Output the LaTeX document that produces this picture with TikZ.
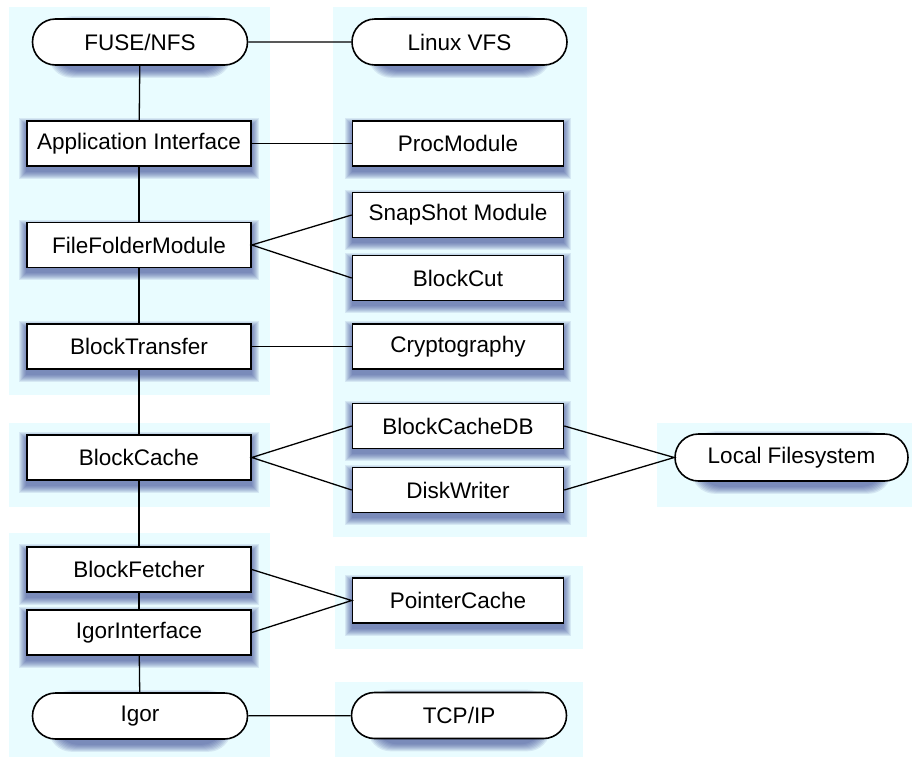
\documentclass[tikz,border=0pt]{standalone}
\usepackage{fontspec}
\setmainfont{Liberation Sans}
\usetikzlibrary{shapes.misc}
\definecolor{panelcyan}{RGB}{233,252,255}
\definecolor{shadowblue}{RGB}{45,60,140}
\pgfdeclarelayer{panels}
\pgfdeclarelayer{shadows}
\pgfsetlayers{panels,shadows,main}
\tikzset{
  panel/.style = {fill=panelcyan, draw=none},
  shadowpart/.style = {fill=shadowblue, opacity=.1},
  module/.style = {rectangle, draw, line width=1.6pt, fill=white,
    inner sep=0pt, minimum height=45pt, font=\fontsize{22.5}{27}\selectfont},
  leftmod/.style = {module, minimum width=224pt},
  rightmod/.style = {module, minimum width=211pt},
  endpoint/.style = {module, rounded rectangle, minimum width=215pt, minimum height=46pt},
  link/.style = {line width=1.3pt}
}

\begin{document}
\begin{tikzpicture}[x=1pt,y=-1pt]
  \useasboundingbox (0,0) rectangle (912,758);

  % background panels
  \begin{pgfonlayer}{panels}
    \path[panel] (9,7) rectangle (270,395);
    \path[panel] (9,423) rectangle (270,507);
    \path[panel] (9,533) rectangle (270,757);
    \path[panel] (333,7) rectangle (587,537);
    \path[panel] (335,566) rectangle (583,649);
    \path[panel] (335,682) rectangle (583,757);
    \path[panel] (657,423) rectangle (912,507);
  \end{pgfonlayer}

  % left column
  \node (fuse) at (140,42) [endpoint] {FUSE/NFS};
  \node (appif) at (139,143.5) [leftmod] {Application Interface};
  \node (ffm) at (139,245) [leftmod] {FileFolderModule};
  \node (transfer) at (139,346.5) [leftmod] {BlockTransfer};
  \node (cache) at (139,457.5) [leftmod] {BlockCache};
  \node (fetcher) at (139,569.5) [leftmod] {BlockFetcher};
  \node (igorif) at (139,632.5) [leftmod] {IgorInterface};
  \node (igor) at (140,716) [endpoint] {Igor};

  % right column
  \node (vfs) at (459.5,42) [endpoint] {Linux VFS};
  \node (proc) at (458,143.5) [rightmod] {ProcModule};
  \node (snapshot) at (458,215) [rightmod] {SnapShot Module};
  \node (blockcut) at (458,278) [rightmod] {BlockCut};
  \node (crypto) at (458,346.5) [rightmod] {Cryptography};
  \node (cachedb) at (458,426) [rightmod] {BlockCacheDB};
  \node (diskwriter) at (458,490) [rightmod] {DiskWriter};
  \node (pointer) at (458,600.5) [rightmod] {PointerCache};
  \node (tcp) at (459,715.5) [endpoint] {TCP/IP};

  \node (localfs) at (791.5,457.5) [endpoint, minimum width=233pt, minimum height=47pt] {Local Filesystem};

  % soft shadows under the boxes
  \begin{pgfonlayer}{shadows}
    \foreach \n/\r in {fuse/23pt, vfs/23pt, igor/23pt, tcp/23pt, localfs/23pt,
        appif/0pt, ffm/0pt, transfer/0pt, cache/0pt, fetcher/0pt, igorif/0pt,
        proc/0pt, snapshot/0pt, blockcut/0pt, crypto/0pt, cachedb/0pt,
        diskwriter/0pt, pointer/0pt}
      \foreach \g in {0,1,...,7}
        \fill[shadowpart, rounded corners=\r]
          ([shift={(-\g,5-\g)}]\n.north west) rectangle ([shift={(\g,5+\g)}]\n.south east);
  \end{pgfonlayer}

  % connections
  \draw[link] (fuse) -- (vfs);
  \draw[link] (fuse) -- (appif);
  \draw[link] (appif) -- (proc);
  \draw[link] (appif) -- (ffm);
  \draw[link] (snapshot.west) -- (ffm.east) -- (blockcut.west);
  \draw[link] (ffm) -- (transfer);
  \draw[link] (transfer) -- (crypto);
  \draw[link] (transfer) -- (cache);
  \draw[link] (cachedb.west) -- (cache.east) -- (diskwriter.west);
  \draw[link] (cachedb.east) -- (localfs.west) -- (diskwriter.east);
  \draw[link] (cache) -- (fetcher);
  \draw[link] (fetcher) -- (igorif);
  \draw[link] (fetcher.east) -- (pointer.west) -- (igorif.east);
  \draw[link] (igorif) -- (igor);
  \draw[link] (igor) -- (tcp);
\end{tikzpicture}
\end{document}
